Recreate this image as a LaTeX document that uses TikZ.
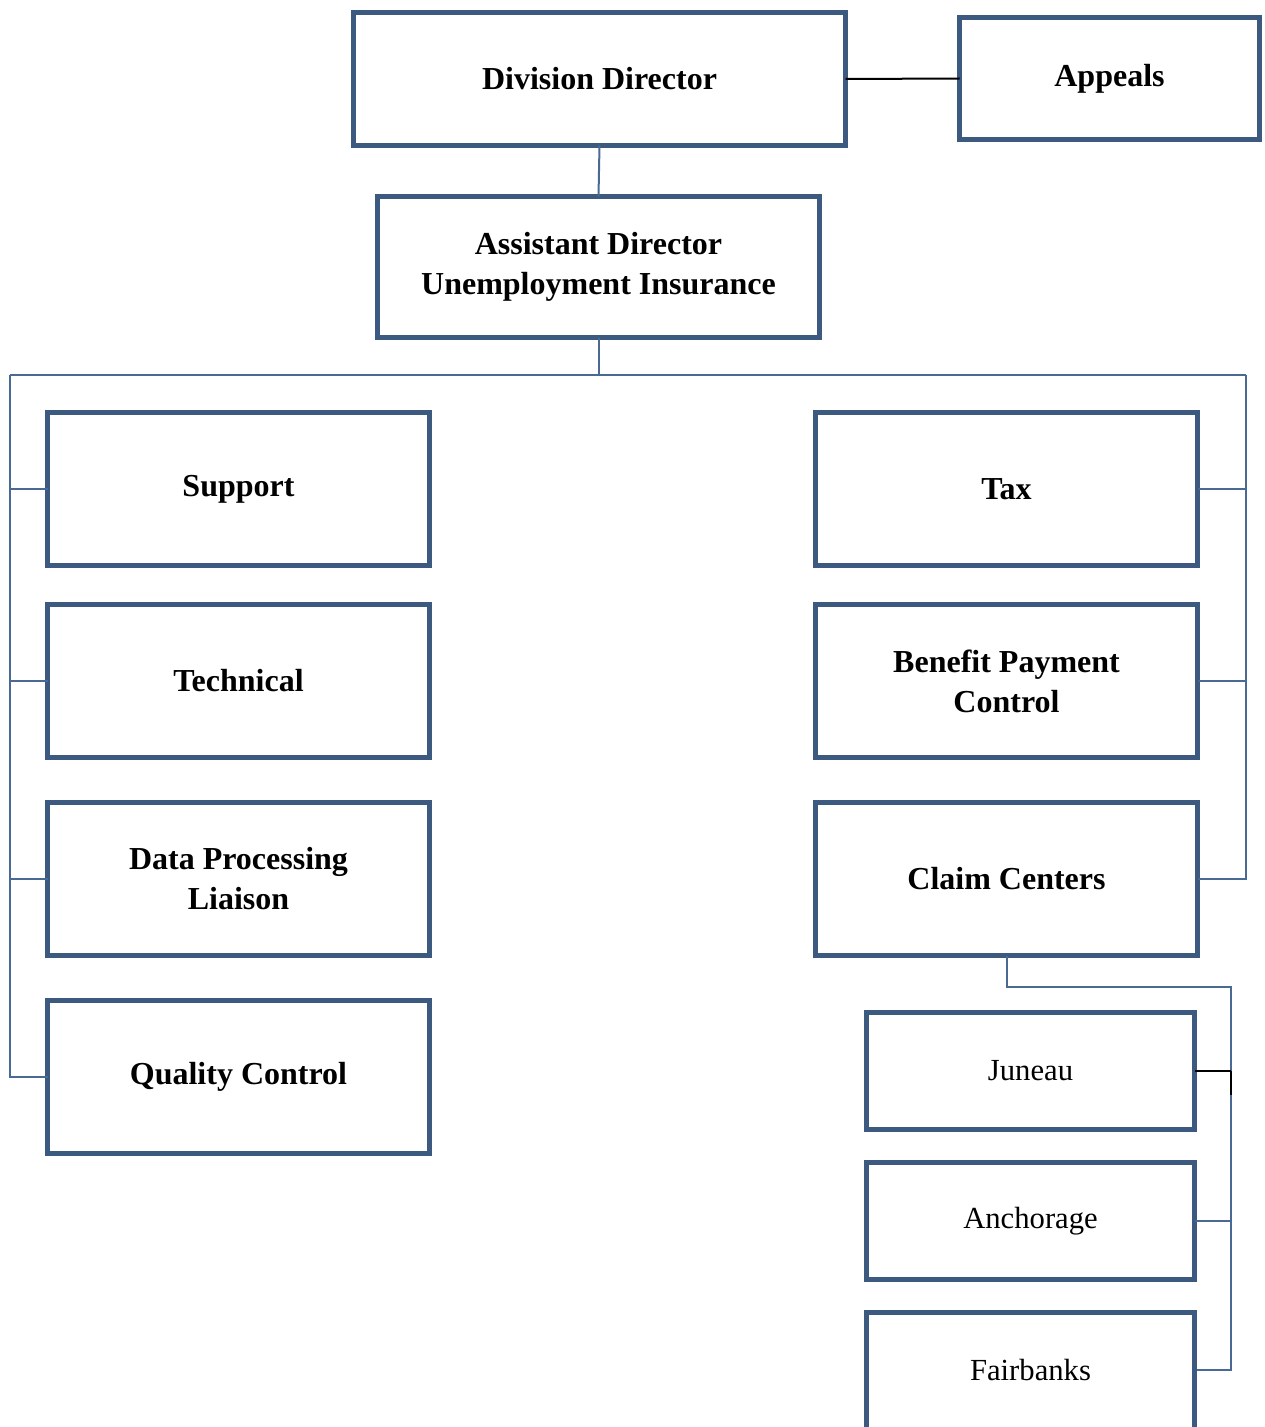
\documentclass[tikz,border=0pt]{standalone}
\usepackage{fontspec}
\setmainfont{Liberation Serif}
\definecolor{boxblue}{HTML}{3C5A80}
\definecolor{linkblue}{HTML}{4A6A96}
\begin{document}
\begin{tikzpicture}[x=0.75pt,y=-0.75pt,
  box/.style={draw=boxblue, line width=3.75pt, fill=white, rectangle,
    inner sep=0pt, outer sep=0pt, align=center, text=black,
    font=\fontsize{24}{30}\selectfont\bfseries},
  city/.style={box, font=\fontsize{23}{28}\selectfont},
  link/.style={draw=linkblue, line width=1.5pt},
  blink/.style={draw=black, line width=1.5pt}]
\useasboundingbox (0,0) rectangle (1264,1427);
\clip (0,0) rectangle (1264,1427);

% top level
\node[box, minimum width=492*0.75pt, minimum height=133*0.75pt] (dd) at (599.5,79) {Division Director};
\node[box, minimum width=300*0.75pt, minimum height=122*0.75pt] (ap) at (1109.5,78.5) {Appeals};
\node[box, minimum width=442*0.75pt, minimum height=141*0.75pt] (ad) at (598.5,267) {Assistant Director\\Unemployment Insurance};

% left column
\node[box, minimum width=382*0.75pt, minimum height=153*0.75pt] (sup) at (238.5,489) {Support};
\node[box, minimum width=382*0.75pt, minimum height=153*0.75pt] (tec) at (238.5,681) {Technical};
\node[box, minimum width=382*0.75pt, minimum height=153*0.75pt] (dpl) at (238.5,879) {Data Processing\\Liaison};
\node[box, minimum width=382*0.75pt, minimum height=153*0.75pt] (qc) at (238.5,1077) {Quality Control};

% right column
\node[box, minimum width=382*0.75pt, minimum height=153*0.75pt] (tax) at (1006.5,489) {Tax};
\node[box, minimum width=382*0.75pt, minimum height=153*0.75pt] (bpc) at (1006.5,681) {Benefit Payment\\Control};
\node[box, minimum width=382*0.75pt, minimum height=153*0.75pt] (cc) at (1006.5,879) {Claim Centers};

% claim centers
\node[city, minimum width=328*0.75pt, minimum height=117*0.75pt] (jun) at (1030.5,1071) {Juneau};
\node[city, minimum width=328*0.75pt, minimum height=117*0.75pt] (anc) at (1030.5,1221) {Anchorage};
\node[city, minimum width=328*0.75pt, minimum height=140*0.75pt, text depth=0pt] (fb) at (1030.5,1382.5) {};
\node[font=\fontsize{23}{28}\selectfont] (fbl) at (1030.5,1370) {Fairbanks};

% bus coordinates
\coordinate (hub) at (598.5,375);
\coordinate (lbus) at (10,375);
\coordinate (rbus) at (1246,375);
\coordinate (ccbus) at (1006.5,987);
\coordinate (cbus) at (1231,987);
\coordinate (fbtap) at (1197,1370);

% connectors
\draw[blink] (dd.east) -- (ap.west);
\draw[link] (dd.south) -- (ad.north);
\draw[link] (ad.south) -- (hub);
\draw[link] (lbus) -- (rbus);
\draw[link] (lbus) |- (qc.west);
\draw[link] (lbus) |- (sup.west);
\draw[link] (lbus) |- (tec.west);
\draw[link] (lbus) |- (dpl.west);
\draw[link] (rbus) |- (cc.east);
\draw[link] (rbus) |- (tax.east);
\draw[link] (rbus) |- (bpc.east);
\draw[link] (cc.south) -- (ccbus) -- (cbus) |- (fbtap);
\draw[link] (cbus) |- (anc.east);
\draw[blink] (cbus |- jun.east) -- (jun.east);
\draw[blink] (cbus |- jun.east) -- ++(0,24);
\end{tikzpicture}
\end{document}
